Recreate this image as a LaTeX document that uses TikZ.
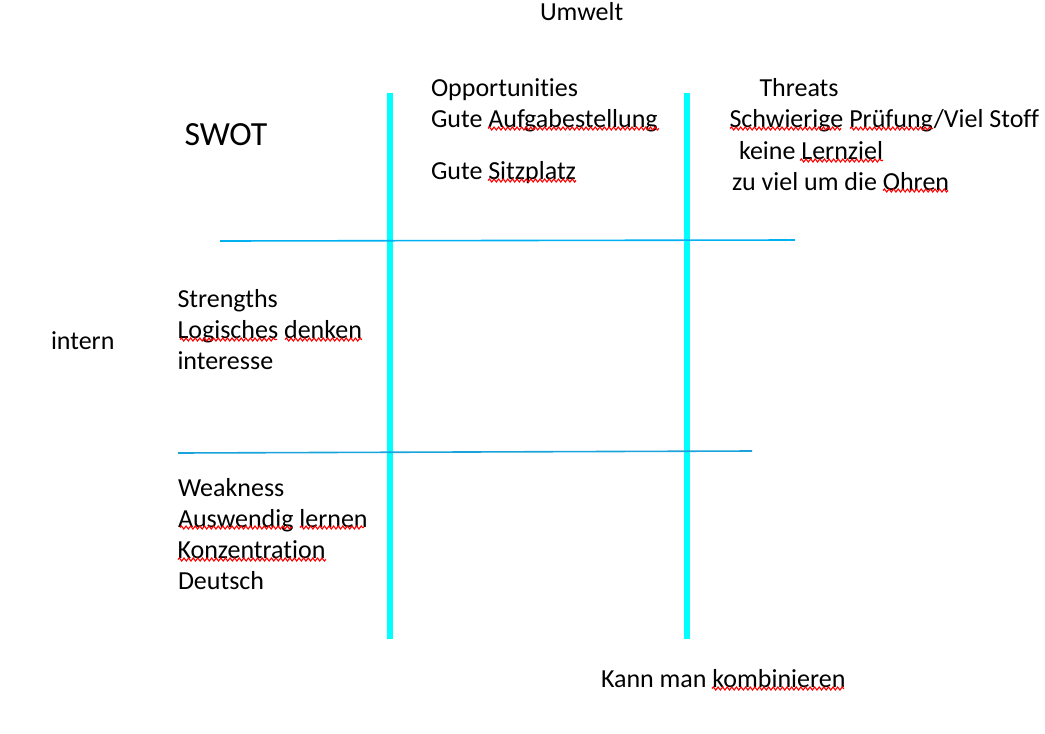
\documentclass[tikz,border=0pt]{standalone}
\usepackage{fontspec}
\setmainfont[RawFeature={-liga;-clig;-dlig}]{Carlito}
\usetikzlibrary{decorations.pathmorphing}
\definecolor{vcyan}{HTML}{00FFFF}
\definecolor{hblue}{HTML}{00B0F0}
\definecolor{hblue2}{HTML}{1AA3DA}
\definecolor{spell}{HTML}{FF0000}
\tikzset{
  txt/.style={anchor=base west, inner sep=0pt, outer sep=0pt, font=\fontsize{26}{31}\selectfont},
  big/.style={anchor=base west, inner sep=0pt, outer sep=0pt, font=\fontsize{33.8}{40}\selectfont},
  vline/.style={draw=vcyan, line width=5.5pt},
  hline/.style={draw=hblue, line width=1.6pt},
  hlineb/.style={draw=hblue2, line width=1.6pt},
  squig/.style={draw=spell, line width=1.1pt, decorate, decoration={snake, segment length=4.6pt, amplitude=1.5pt}},
}
\begin{document}
\begin{tikzpicture}[x=1pt,y=-1pt]
\useasboundingbox (0,0) rectangle (1045,734);
% grid lines
\coordinate (v1t) at (390,93);  \coordinate (v1b) at (390,639);
\coordinate (v2t) at (687,93);  \coordinate (v2b) at (687,639);
\coordinate (h1l) at (220,241); \coordinate (h1r) at (795,240);
\coordinate (h2l) at (178,453); \coordinate (h2r) at (752,451);
\draw[vline] (v1t) -- (v1b);
\draw[vline] (v2t) -- (v2b);
\draw[hline] (h1l) -- (h1r);
\draw[hlineb] (h2l) -- (h2r);
% texts
\node[txt] (umwelt) at (540,20.5) {Umwelt};
\node[big] (swot) at (184.5,145) {SWOT};
\node[txt] (intern) at (51,349) {intern};
\node[txt] (opp) at (431,96.5) {Opportunities};
\node[txt] (opp1) at (431,127.5) {Gute Aufgabestellung};
\node[txt] (opp2) at (431,179.5) {Gute Sitzplatz};
\node[txt] (thr) at (759.5,96.5) {Threats};
\node[txt] (thr1) at (729.5,127.5) {Schwierige Prüfung/Viel Stoff};
\node[txt] (thr2) at (739,159) {keine Lernziel};
\node[txt] (thr3) at (732,190.5) {zu viel um die Ohren};
\node[txt] (str) at (177.5,307) {Strengths};
\node[txt] (str1) at (177.5,338) {Logisches denken};
\node[txt] (str2) at (177.5,369.5) {interesse};
\node[txt] (wk) at (178,496) {Weakness};
\node[txt] (wk1) at (178,527) {Auswendig lernen};
\node[txt] (wk2) at (177.5,558.5) {Konzentration};
\node[txt] (wk3) at (178,589.5) {Deutsch};
\node[txt] (komb) at (601,687.5) {Kann man kombinieren};
% spelling squiggles
\draw[squig] (488,128.5) -- (659,128.5);
\draw[squig] (488,180.5) -- (576,180.5);
\draw[squig] (730,128.5) -- (841,128.5);
\draw[squig] (850,128.5) -- (933,128.5);
\draw[squig] (800,160.5) -- (883,160.5);
\draw[squig] (883,190.5) -- (948,190.5);
\draw[squig] (180,339.5) -- (277,339.5);
\draw[squig] (285,339.5) -- (362,339.5);
\draw[squig] (180,527.5) -- (292,527.5);
\draw[squig] (300,527.5) -- (364,527.5);
\draw[squig] (178,559.5) -- (326,559.5);
\draw[squig] (712,688.5) -- (844,688.5);
\end{tikzpicture}
\end{document}
